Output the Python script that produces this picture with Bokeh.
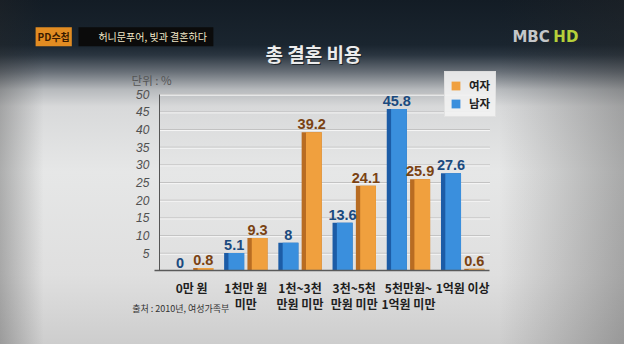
from bokeh.plotting import figure
from bokeh.models import Range1d, Label, Legend, LegendItem, FixedTicker, ColumnDataSource
from bokeh.transform import dodge
from bokeh.embed import file_html
from bokeh.resources import INLINE
from bokeh.core.properties import value

categories = ["0만 원", "1천만 원\n미만", "1천~3천\n만원 미만", "3천~5천\n만원 미만", "5천만원~\n1억원 미만", "1억원 이상"]
female = [0.8, 9.3, 39.2, 24.1, 25.9, 0.6]
male = [0, 5.1, 8, 13.6, 45.8, 27.6]
female_labels = ["0.8", "9.3", "39.2", "24.1", "25.9", "0.6"]
male_labels = ["0", "5.1", "8", "13.6", "45.8", "27.6"]
y_ticks = [5, 10, 15, 20, 25, 30, 35, 40, 45, 50]

pos = list(range(len(categories)))
src = ColumnDataSource(dict(pos=pos, female=female, male=male, fl=female_labels, ml=male_labels))

# layout helpers: map reference-picture pixels to data units
def X(px):
    return (px - 196) / 55.6

def Y(py):
    return (283 - py) / 3.7

bg = ("linear-gradient(90deg, rgba(40,40,40,0.30) 0%, rgba(40,40,40,0) 7%, "
      "rgba(40,40,40,0) 80%, rgba(40,40,40,0.32) 100%), "
      "linear-gradient(180deg, #131c25 0%, #1a252f 13%, #2a3540 16%, #6a7179 21%, "
      "#b6b9bc 26%, #d8d9da 31%, #e6e7e7 50%, #dfdfdf 80%, #cdcdcd 100%)")

p = figure(width=624, height=344, x_range=Range1d(X(0), X(640)), y_range=Range1d(Y(360), Y(0)),
           output_backend="svg", toolbar_location=None,
           min_border=0, min_border_left=0, min_border_right=0, min_border_top=0, min_border_bottom=0,
           border_fill_color=None, background_fill_color=None, outline_line_color=None,
           styles={"background": bg})

# grid lines
p.xgrid.visible = False
p.ygrid.visible = False
p.segment(x0=X(163), x1=X(502), y0=y_ticks, y1=y_ticks, line_color="#c2c2c2", line_width=1)
p.segment(x0=X(163), x1=X(502), y0=[t - 0.3 for t in y_ticks], y1=[t - 0.3 for t in y_ticks],
          line_color="#f6f6f6", line_width=1)

# bars (dark side + light face for a 3D feel)
bw = 0.37
side = 0.08
p.vbar(x=dodge("pos", -0.215, range=p.x_range), top="male", width=bw, source=src,
       fill_color="#1c5ca6", line_color=None)
male_r = p.vbar(x=dodge("pos", -0.215 + side / 2, range=p.x_range), top="male", width=bw - side,
                source=src, fill_color="#3a8fdd", line_color=None)
p.vbar(x=dodge("pos", 0.215, range=p.x_range), top="female", width=bw, source=src,
       fill_color="#b86c22", line_color=None)
female_r = p.vbar(x=dodge("pos", 0.215 + side / 2, range=p.x_range), top="female", width=bw - side,
                  source=src, fill_color="#f0a03e", line_color=None)

# value labels
p.text(x=dodge("pos", -0.215, range=p.x_range), y="male", text="ml", source=src,
       text_align="center", text_baseline="bottom", y_offset=-3,
       text_font=value("Liberation Sans"), text_font_style="bold", text_font_size="14.5px",
       text_color="#1b4a7e")
p.text(x=dodge("pos", 0.215, range=p.x_range), y="female", text="fl", source=src,
       text_align="center", text_baseline="bottom", y_offset=-3,
       text_font=value("Liberation Sans"), text_font_style="bold", text_font_size="14.5px",
       text_color="#7a4212")

# axes drawn at fixed data locations
p.yaxis.fixed_location = X(163)
p.yaxis.bounds = (0, 50)
p.yaxis.ticker = FixedTicker(ticks=y_ticks)
p.yaxis.major_tick_line_color = None
p.yaxis.minor_tick_line_color = None
p.yaxis.axis_line_color = "#555555"
p.yaxis.major_label_text_font = "Liberation Sans"
p.yaxis.major_label_text_font_style = "italic"
p.yaxis.major_label_text_font_size = "12px"
p.yaxis.major_label_text_color = "#505050"
p.yaxis.major_label_standoff = 4

p.xaxis.fixed_location = 0
p.xaxis.bounds = (X(158), X(502))
p.xaxis.ticker = FixedTicker(ticks=pos)
p.xaxis.major_label_overrides = {i: c for i, c in zip(pos, categories)}
p.xaxis.major_tick_line_color = None
p.xaxis.minor_tick_line_color = None
p.xaxis.axis_line_color = "#5a5a5a"
p.xaxis.axis_line_width = 1.5
p.xaxis.major_label_text_font = "Noto Sans CJK KR"
p.xaxis.major_label_text_font_style = "bold"
p.xaxis.major_label_text_font_size = "12px"
p.xaxis.major_label_text_color = "#1e1e1e"
p.xaxis.major_label_text_line_height = 0.95
p.xaxis.major_label_standoff = 2

legend = Legend(items=[LegendItem(label="여자", renderers=[female_r]),
                       LegendItem(label="남자", renderers=[male_r])],
                location=(444, 227), background_fill_color="#f2f2f2", background_fill_alpha=0.9,
                border_line_color="#d4d4d4", label_text_font="Noto Sans CJK KR",
                label_text_font_style="bold", label_text_font_size="11.5px", label_text_color="#222222",
                glyph_width=11, glyph_height=11, label_standoff=8, spacing=2, padding=5, margin=0)
p.add_layout(legend)

def lab(px, py, text, **kw):
    p.add_layout(Label(x=X(px), y=Y(py), text=text, **kw))

nb = "\u00a0"
lab(155, 83, "단위 : %", text_font="Noto Sans CJK KR", text_font_size="11.5px",
    text_color="#555555", text_align="center", text_baseline="middle")
lab(322, 56, "총 결혼 비용", text_font="Noto Sans CJK KR", text_font_style="bold",
    text_font_size="19px", text_color="#20262c", text_align="center", text_baseline="middle")
lab(321, 55, "총 결혼 비용", text_font="Noto Sans CJK KR", text_font_style="bold",
    text_font_size="19px", text_color="#ececec", text_align="center", text_baseline="middle")
lab(36, 38, "PD수첩", text_font="Noto Sans CJK KR", text_font_style="bold",
    text_font_size="10px", text_color="#3a1a00", text_baseline="middle",
    background_fill_color="#e28c22", padding=2)
lab(80, 38, nb * 8 + "허니문푸어, 빚과 결혼하다" + nb * 2, text_font="Noto Sans CJK KR",
    text_font_size="10px", text_color="#f2e8c8", text_baseline="middle",
    background_fill_color="#0b0b0b", padding=2)
lab(525, 38, "MBC", text_font="DejaVu Sans", text_font_style="bold",
    text_font_size="15px", text_color="#c4c6c8", text_baseline="middle")
lab(567, 38, "HD", text_font="DejaVu Sans", text_font_style="bold",
    text_font_size="15px", text_color="#b6d03a", text_baseline="middle")
lab(135, 322, "출처 : 2010년, 여성가족부", text_font="Noto Sans CJK KR",
    text_font_size="9px", text_color="#333333", text_baseline="middle")

open("out.html", "w").write(file_html(p, INLINE))
